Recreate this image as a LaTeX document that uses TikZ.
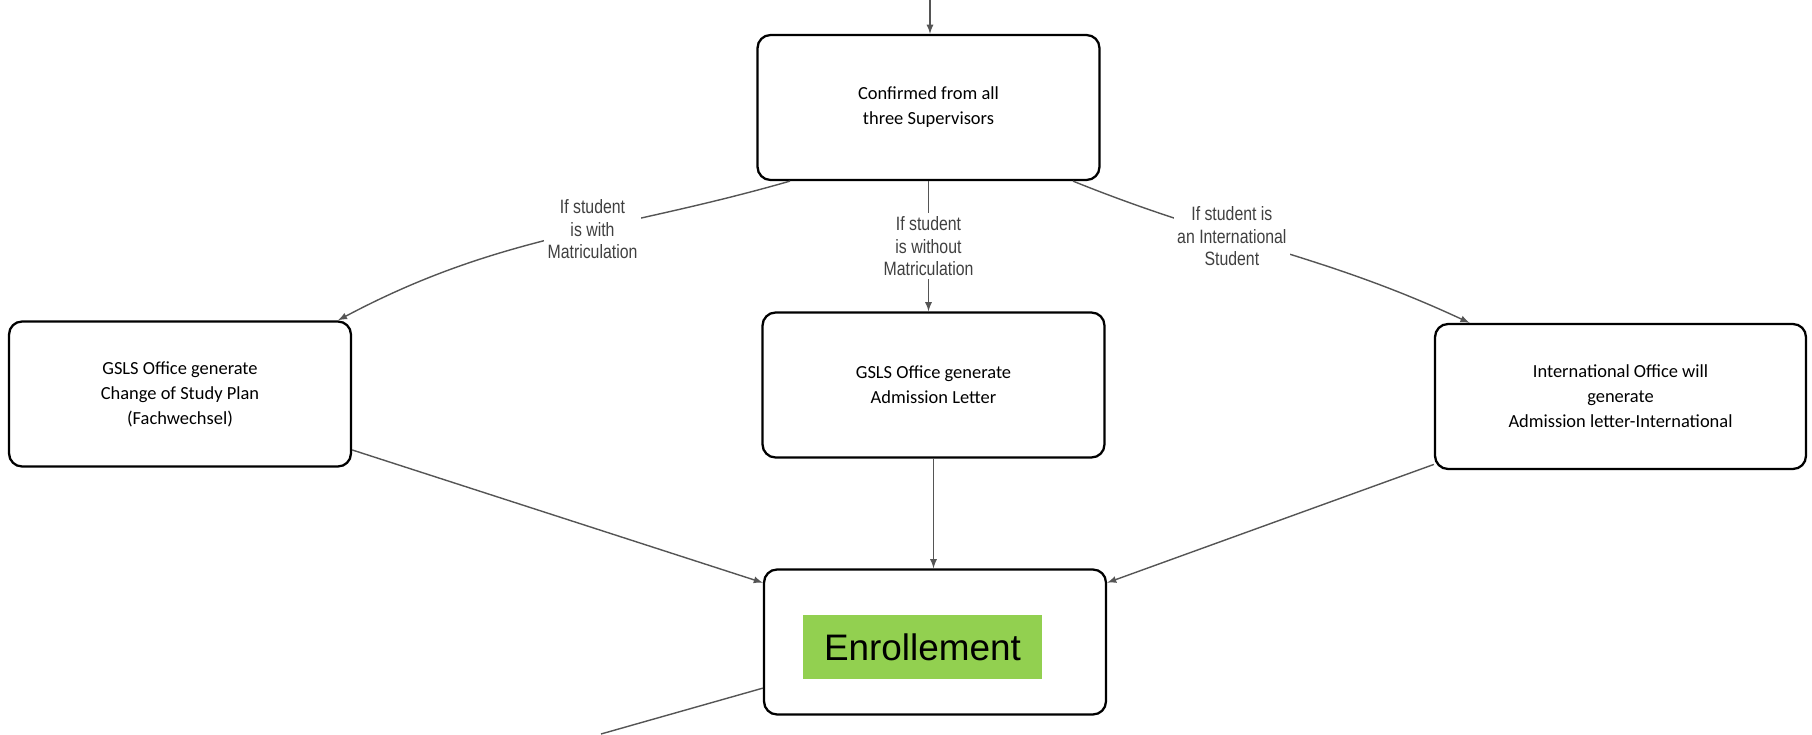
\documentclass[tikz,border=0pt]{standalone}
\usepackage{fontspec}
\setmainfont{Carlito}
\newfontfamily\condfont[FakeStretch=0.82]{Liberation Sans}
\newfontfamily\arialfont{Liberation Sans}
\usepackage{tikz}
\usetikzlibrary{arrows}
\usepackage{xcolor}
\definecolor{enrollgreen}{HTML}{92D050}
\definecolor{linegray}{HTML}{555555}
\definecolor{condgray}{HTML}{404040}

\begin{document}
\begin{tikzpicture}[x=0.02cm,y=0.02cm,>=latex]
  \tikzstyle{process}=[draw,line width=1.3pt,rounded corners=0.26cm,align=center,
    minimum width=6.84cm,minimum height=2.9cm,font=\fontsize{10.5}{14.2}\selectfont]
  \tikzstyle{cond}=[fill=white,align=center,text=condgray,inner sep=2pt,
    font=\condfont\fontsize{11}{12.75}\selectfont]
  \tikzstyle{flow}=[linegray,line width=0.8pt]

  \useasboundingbox (0,0) rectangle (1812,734);

  \coordinate (entry) at (930,734);
  \coordinate (exit)  at (601,0);

  \node[process]                  (confirm) at (928.5,626.5) {Confirmed from all\\three Supervisors};
  \node[process]                  (gsls_cs) at (180,340)     {GSLS Office generate\\Change of Study Plan\\(Fachwechsel)};
  \node[process]                  (gsls_al) at (933.5,349)   {GSLS Office generate\\Admission Letter};
  \node[process,minimum width=7.42cm] (intl) at (1620.5,337.5) {International Office will\\generate\\Admission letter-International};
  \node[process]                  (enroll)  at (935,92)      {};
  \node[fill=enrollgreen,minimum width=4.78cm,minimum height=1.28cm,
        font=\arialfont\fontsize{21}{25}\selectfont] (enroll_txt) at (922.5,87) {Enrollement};

  \path[->,flow]
  (entry)          edge                                                  (entry |- confirm.north)
  (confirm.-152.5) edge [out=196,in=28]  node[cond,pos=0.42] {If student\\is with\\Matriculation}    (gsls_cs.25.8)
  (confirm.south)  edge                  node[cond]          {If student\\is without\\Matriculation} (confirm.south |- gsls_al.north)
  (confirm.-27.3)  edge [out=-22,in=155] node[cond,pos=0.39] {If student is\\an International\\Student} (intl.154.6)
  (gsls_cs.-18.4)  edge                                                  (enroll.161.4)
  (gsls_al.south)  edge                                                  (gsls_al.south |- enroll.north)
  (intl.-160.7)    edge                                                  (enroll.19.6)
  ;
  \draw[flow] (enroll.195.6) -- (exit);
\end{tikzpicture}
\end{document}
